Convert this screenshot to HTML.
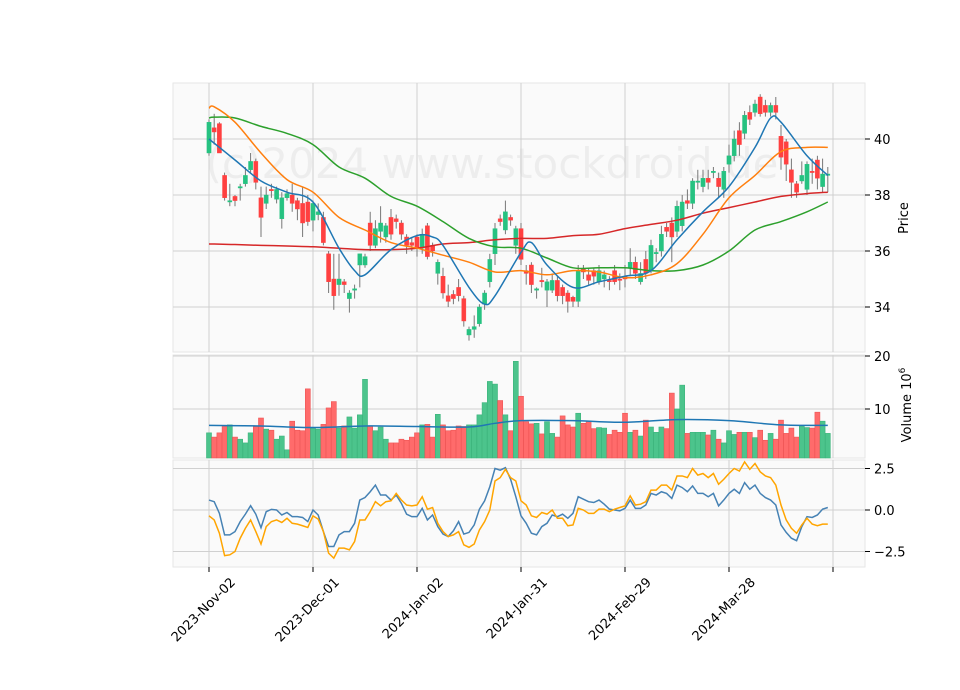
<!DOCTYPE html>
<html><head><meta charset="utf-8"><style>
html,body{margin:0;padding:0;background:#fff;}
svg{display:block;font-family:"DejaVu Sans","Liberation Sans",sans-serif;}
</style></head><body>
<svg id="chart" width="960" height="690" viewBox="0 0 960 690" xmlns="http://www.w3.org/2000/svg">
<rect x="0" y="0" width="960" height="690" fill="#fff"/>
<rect x="173" y="83" width="692" height="269" fill="#fafafa" stroke="#e6e6e6"/>
<rect x="173" y="355" width="692" height="103" fill="#fafafa" stroke="#e6e6e6"/>
<rect x="173" y="460" width="692" height="107" fill="#fafafa" stroke="#e6e6e6"/>
<text x="492" y="178" font-size="42" fill="#000" fill-opacity="0.05" text-anchor="middle">(c)2024 www.stockdroid.de</text>
<g id="grid"></g>
<g id="marks"></g>
<g id="axes"></g>
<text transform="translate(908,218) rotate(-90)" font-size="13" text-anchor="middle">Price</text>
<text transform="translate(911,405) rotate(-90)" font-size="13" text-anchor="middle">Volume  10<tspan dy="-6" font-size="9">6</tspan></text>
</svg>
<script>
const dates=["2023-Nov-02","2023-Dec-01","2024-Jan-02","2024-Jan-31","2024-Feb-29","2024-Mar-28",""];
const dateIdx=[0,20,40,60,80,100,120];
const priceTicks=[34,36,38,40];
const volTicks=[10,20];
const oscTicks=[2.5,0,-2.5];
const oscLabels=["2.5","0.0","\u22122.5"];
const opens=[39.5,40.4,40.55,38.7,37.75,37.95,38.25,38.4,38.9,39.2,37.9,37.7,38.2,37.85,37.15,37.9,38.0,37.8,37.7,37.75,37.1,37.3,37.2,35.9,35.0,34.8,34.9,34.3,34.6,35.5,35.5,37.0,36.2,36.7,36.5,37.2,37.15,37.0,36.5,36.3,36.5,36.1,36.9,36.2,35.2,35.1,34.4,34.45,34.7,34.3,33.0,33.2,33.4,34.1,34.9,35.9,37.15,36.75,37.2,36.2,36.8,35.3,35.5,34.6,34.95,34.6,34.6,34.95,34.7,34.5,34.35,34.2,35.35,35.15,35.3,34.9,35.0,34.95,35.3,35.0,35.1,35.4,35.6,34.9,35.7,35.3,35.9,36.0,36.85,37.0,36.7,36.9,37.8,37.7,38.45,38.3,38.6,38.8,38.6,38.2,39.1,39.4,40.3,40.2,40.95,40.95,41.5,41.2,40.95,41.2,40.1,39.9,38.9,38.4,38.5,38.2,38.85,39.25,38.3,38.7];
const closes=[40.6,40.25,39.5,37.9,37.8,37.8,38.3,38.7,39.2,38.45,37.2,38.0,38.15,38.2,37.9,38.05,37.7,37.5,37.0,37.05,37.7,37.4,36.3,34.9,34.4,35.0,34.8,34.5,34.65,35.9,35.8,36.2,36.8,37.0,36.9,36.6,37.05,36.6,36.2,36.2,36.1,36.6,35.8,36.0,35.6,34.5,34.2,34.3,34.4,33.5,33.2,33.3,34.0,34.5,35.7,36.8,37.05,37.4,37.1,36.8,35.7,35.2,34.8,34.65,34.9,34.9,34.95,34.4,34.4,34.2,34.2,35.3,35.25,34.95,35.1,35.3,35.15,34.9,34.9,34.95,35.0,35.6,35.2,35.2,35.2,36.2,35.95,36.6,36.7,36.5,37.6,37.75,37.7,38.5,38.5,38.6,38.45,38.85,38.3,38.85,39.4,40.0,39.8,40.85,40.7,41.25,40.9,40.95,41.2,40.95,39.35,39.1,38.45,38.1,38.7,39.1,38.8,38.6,38.75,38.75];
const highs=[40.7,40.9,40.6,38.8,38.4,38.0,38.4,39.0,39.5,39.3,38.3,38.3,38.4,38.3,38.1,38.2,38.4,37.9,38.3,38.0,37.8,37.7,37.4,36.0,35.9,35.9,35.0,34.6,34.8,35.9,35.9,37.4,37.1,37.6,37.0,37.5,37.3,37.1,36.6,36.5,36.6,36.8,37.0,36.3,35.7,35.4,34.8,34.6,35.0,34.4,33.3,33.7,34.1,34.6,35.9,37.0,37.3,37.8,37.3,36.9,37.0,35.5,35.6,34.7,35.4,35.0,35.2,35.1,34.8,34.6,34.4,35.5,35.5,35.4,35.4,35.5,35.3,35.1,35.5,35.2,35.5,36.1,35.8,35.6,36.0,36.4,36.1,36.9,37.0,37.2,37.8,38.0,38.2,38.6,38.9,38.9,38.9,39.0,38.8,39.0,39.8,40.3,40.6,41.0,41.2,41.4,41.6,41.4,41.3,41.5,40.5,40.0,39.3,38.5,39.2,39.2,39.3,39.4,39.3,39.0];
const lows=[39.4,39.8,39.5,37.8,37.6,37.6,37.8,38.3,38.8,38.2,36.5,37.5,37.9,37.7,36.8,37.8,37.4,37.1,36.5,36.9,36.7,37.1,36.2,34.5,33.9,34.4,34.5,33.8,34.3,34.7,35.4,36.0,36.1,36.3,36.3,36.4,36.8,36.4,35.9,36.0,35.8,35.9,35.7,35.8,34.8,34.3,34.0,34.1,34.2,33.3,32.8,32.9,33.3,33.9,34.7,35.5,36.9,36.6,36.9,35.9,35.5,34.8,34.5,34.3,34.7,34.0,34.5,34.2,34.1,33.8,34.0,34.0,35.0,34.8,34.8,34.8,34.7,34.6,34.8,34.6,34.7,35.1,35.0,34.8,35.0,35.2,35.6,35.8,36.5,35.6,36.5,36.7,37.5,37.5,38.2,38.1,38.2,38.6,37.9,37.9,38.8,39.2,39.4,40.0,40.5,40.8,40.8,40.8,40.8,40.7,38.9,38.5,37.9,37.9,38.4,38.0,38.4,38.2,38.1,38.1];
const volumes=[5.5,4.7,5.5,6.7,7.0,4.7,4.3,3.6,5.5,6.7,8.3,6.2,6.0,4.3,4.9,2.3,7.7,6.0,5.9,13.8,6.4,6.2,7.1,10.2,11.4,6.4,6.8,8.5,6.4,8.9,15.6,6.8,5.9,6.6,4.3,3.6,3.6,4.3,4.1,4.7,5.5,7.0,7.1,4.7,9.0,7.0,5.9,6.0,6.8,6.7,7.0,7.0,8.9,11.2,15.2,14.7,11.6,8.9,5.9,19.0,12.4,7.6,7.2,7.3,5.3,7.6,5.4,4.7,8.7,7.0,6.6,9.2,7.3,7.7,6.3,6.5,6.4,5.2,6.0,5.6,9.2,5.6,6.0,4.9,7.9,6.6,5.6,6.6,6.3,13.0,10.0,14.5,5.4,5.6,5.6,5.6,5.1,6.0,4.3,3.6,5.9,5.2,5.6,5.6,5.6,4.6,6.0,4.1,5.4,4.3,7.9,5.4,6.4,4.7,6.8,6.5,6.4,9.4,7.7,5.4];
const volMaIdx=[0,10,20,30,40,50,55,60,70,80,90,100,110,119];
const volMa=[6.9,6.8,6.5,6.8,6.7,6.6,7.3,7.8,7.8,7.5,8.0,7.8,7.0,6.9];
const blueIdx=[0,5,10,15,20,25,28,30,35,40,43,45,50,53,55,60,62,65,70,75,80,85,90,95,100,105,108,110,115,119];
const blueMa=[40.0,39.25,38.5,38.1,37.75,36.1,35.3,35.15,36.05,36.55,36.5,36.2,34.7,34.1,34.4,35.95,36.3,35.5,34.7,34.9,35.1,35.3,36.4,37.4,38.3,39.7,40.75,40.6,39.4,38.7];
const maIdx=[0,1,5,10,15,20,25,30,35,40,45,50,55,60,65,70,75,80,85,90,95,100,105,110,115,119];
const orangeMa=[41.1,41.15,40.6,39.5,38.55,38.1,37.2,36.75,36.3,36.1,35.85,35.6,35.25,35.3,35.15,35.3,35.25,35.05,35.15,35.55,36.6,37.9,38.7,39.55,39.7,39.7];
const greenMa=[40.75,40.78,40.75,40.45,40.2,39.8,39.0,38.6,37.95,37.6,37.05,36.45,36.15,36.1,35.75,35.4,35.4,35.4,35.3,35.3,35.5,36.0,36.75,37.05,37.4,37.75];
const redMa=[36.25,36.25,36.23,36.2,36.18,36.15,36.1,36.05,36.05,36.1,36.25,36.3,36.4,36.45,36.45,36.55,36.6,36.8,36.95,37.1,37.35,37.55,37.75,37.95,38.05,38.1];
const oscBlue=[0.6,0.5,-0.2,-1.5,-1.5,-1.3,-0.7,-0.25,0.26,-0.25,-1.07,-0.1,0.04,0,-0.3,-0.15,-0.4,-0.4,-0.45,-0.7,0.0,-0.3,-1.3,-2.2,-2.2,-1.5,-1.3,-1.3,-0.8,0.6,0.75,1.1,1.5,0.9,0.9,0.6,0.9,0.4,-0.25,-0.4,-0.4,0.1,-0.6,-0.3,-1.0,-1.45,-1.6,-1.25,-0.7,-1.45,-1.35,-0.9,0.05,0.55,1.4,2.5,2.4,2.55,1.85,0.8,-0.35,-0.8,-1.4,-1.5,-1.0,-0.8,-0.3,-0.4,-0.25,-0.5,-0.2,0.8,0.65,0.5,0.45,0.6,0.35,0.05,0.0,-0.05,0.1,0.6,0.1,0.1,0.3,1.0,0.9,1.1,1.0,0.7,1.5,1.35,1.1,1.45,1.0,1.0,0.8,1.0,0.25,0.6,1.0,1.25,1.0,1.65,1.25,1.5,1.0,0.75,0.6,0.3,-0.9,-1.35,-1.7,-1.85,-1.0,-0.4,-0.45,-0.3,0.05,0.15];
const oscOrange=[-0.35,-0.6,-1.4,-2.75,-2.7,-2.5,-1.7,-1.1,-0.6,-1.3,-2.05,-1.0,-0.7,-0.6,-0.75,-0.5,-0.8,-0.85,-0.95,-1.05,-0.35,-0.55,-1.3,-2.6,-2.9,-2.3,-2.3,-2.4,-1.9,-0.6,-0.6,-0.1,0.5,0.25,0.5,0.55,1.0,0.6,0.3,0.25,0.3,0.8,0.05,0.15,-0.8,-1.3,-1.6,-1.5,-1.3,-2.1,-2.25,-2.05,-1.2,-0.7,0.0,1.75,1.95,2.45,1.95,1.75,0.55,0.3,-0.35,-0.45,-0.15,-0.25,0.0,-0.5,-0.5,-0.95,-0.9,0.1,0.0,-0.2,-0.2,0.05,0.05,-0.1,0.05,0.15,0.25,0.85,0.3,0.35,0.5,1.2,1.2,1.5,1.5,1.2,2.05,2.05,1.95,2.5,2.1,2.2,1.95,2.2,1.55,1.85,2.2,2.5,2.35,2.9,2.45,2.8,2.3,2.05,1.95,1.5,0.3,-0.6,-1.1,-1.4,-0.9,-0.5,-0.85,-0.95,-0.85,-0.85];

const NS="http://www.w3.org/2000/svg";
const X=i=>209+i*5.2;
const PY=p=>139+(40-p)*28;
const VY=v=>462-v*5.3;
const OY=v=>510-v*16.6;
const grid=document.getElementById('grid'),marks=document.getElementById('marks'),axes=document.getElementById('axes');
function mk(tag,attrs,parent){const e=document.createElementNS(NS,tag);for(const k in attrs)e.setAttribute(k,attrs[k]);parent.appendChild(e);return e;}
function smooth(pts){let d=`M${pts[0][0]},${pts[0][1]}`;for(let i=0;i<pts.length-1;i++){const p0=pts[i-1]||pts[i],p1=pts[i],p2=pts[i+1],p3=pts[i+2]||p2;const c1x=p1[0]+(p2[0]-p0[0])/6,c1y=p1[1]+(p2[1]-p0[1])/6,c2x=p2[0]-(p3[0]-p1[0])/6,c2y=p2[1]-(p3[1]-p1[1])/6;d+=` C${c1x},${c1y} ${c2x},${c2y} ${p2[0]},${p2[1]}`;}return d;}

dateIdx.forEach((di,k)=>{
  const x=X(di);
  [[83,352],[355,458],[460,567]].forEach(r=>{const l=mk('line',{x1:x,x2:x,y1:r[0],y2:r[1],stroke:'#d0d0d0','stroke-width':1},grid);
    
    });
  const t=mk('line',{x1:x,x2:x,y1:567,y2:572,stroke:'#000','stroke-width':1},axes);
  
  
  if(dates[k]){const tx=mk('text',{x:0,y:0,'font-size':13,'text-anchor':'end',transform:`translate(${x+27},${583}) rotate(-45)`},axes);tx.textContent=dates[k];
    
    }
});
function hgrid(ys,labels,yfn,name){ys.forEach((v,k)=>{const y=yfn(v);
  const l=mk('line',{x1:173,x2:865,y1:y,y2:y,stroke:'#d0d0d0','stroke-width':1},grid);
  
  
  mk('line',{x1:865,x2:870,y1:y,y2:y,stroke:'#000'},axes);
  const t=mk('text',{x:874,y:y+5,'font-size':13},axes);t.textContent=labels[k];
  
  });}
hgrid(priceTicks,priceTicks.map(String),PY,'price');
hgrid(volTicks,volTicks.map(String),VY,'volume');
hgrid(oscTicks,oscLabels,OY,'oscillator');

opens.forEach((o,i)=>{const c=closes[i],x=X(i),up=c>=o,col=up?'#26c281':'#ff4040';
  const w=mk('line',{x1:x,x2:x,y1:PY(highs[i]),y2:PY(lows[i]),stroke:'#777','stroke-width':1},marks);
  
  
  const top=PY(Math.max(o,c)),h=Math.max(1,Math.abs(PY(o)-PY(c)));
  const b=mk('rect',{x:x-2.1,y:top,width:4.2,height:h,fill:col,stroke:col,'stroke-width':0.4},marks);
  
  
  const vy=Math.max(356,VY(volumes[i]));
  const vb=mk('rect',{x:x-2.5,y:vy,width:5,height:458-vy,fill:up?'#4cc48c':'#ff6b6b',stroke:up?'#3cb47c':'#ee5555','stroke-width':0.6},marks);
  
  
});
function line(idx,vals,yfn,color,name,w){const p=mk('path',{d:smooth(idx.map((ix,k)=>[X(ix),yfn(vals[k])])),fill:'none',stroke:color,'stroke-width':w||1.5},marks);
  
  }
line(maIdx,redMa,PY,'#d62728','ma-red');
line(maIdx,greenMa,PY,'#2ca02c','ma-green');
line(maIdx,orangeMa,PY,'#ff7f0e','ma-orange');
line(blueIdx,blueMa,PY,'#1f77b4','ma-blue');
line(volMaIdx,volMa,VY,'#1f77b4','volume-ma');
function poly(vals,yfn,color,name){const p=mk('polyline',{points:vals.map((v,i)=>`${X(i)},${yfn(v)}`).join(' '),fill:'none',stroke:color,'stroke-width':1.5},marks);
  
  }
poly(oscBlue,OY,'#4682b4','oscillator-line');
poly(oscOrange,OY,'#ffa500','oscillator-signal');
</script>
</body></html>
